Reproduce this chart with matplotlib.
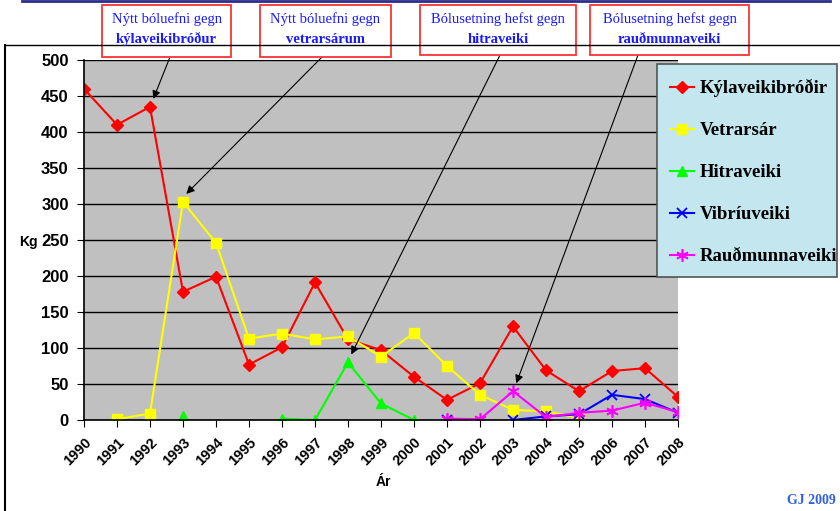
import numpy as np
import matplotlib.pyplot as plt
from matplotlib.patches import Rectangle
from matplotlib.lines import Line2D

nan = np.nan
years = list(range(1990, 2009))

kylaveiki = [460, 410, 435, 178, 199, 77, 101, 191, 112, 97, 60, 28, 51, 130, 69, 40, 68, 72, 32]
vetrarsar = [nan, 1, 9, 303, 246, 113, 120, 112, 116, 88, 121, 75, 35, 14, 12, 3, nan, nan, nan]
hitraveiki = [nan, nan, nan, 5, nan, nan, 2, 0, 80, 23, 0, nan, nan, nan, nan, nan, nan, nan, nan]
vibriuveiki = [nan, nan, nan, nan, nan, nan, nan, nan, nan, nan, nan, 0, nan, 0, 5, 8, 35, 29, 10]
raudmunna = [nan, nan, nan, nan, nan, nan, nan, nan, nan, nan, nan, 2, 1, 40, 4, 10, 13, 24, 11]

series_names = ['Kýlaveikibróðir', 'Vetrarsár', 'Hitraveiki', 'Vibríuveiki', 'Rauðmunnaveiki']

# annotation texts and the point each arrow points at
notes = [('Nýtt bóluefni gegn', 'kýlaveikibróður', 1992, 435),
         ('Nýtt bóluefni gegn', 'vetrarsárum', 1993, 303),
         ('Bólusetning hefst gegn', 'hitraveiki', 1998, 80),
         ('Bólusetning hefst gegn', 'rauðmunnaveiki', 2003, 40)]

W, H = 840, 511
fig = plt.figure(figsize=(8.4, 5.11), dpi=100)

def fx(px):
    return px / W

def fy(py):
    return 1 - py / H

# outer frame of the chart
fig.add_artist(Line2D([fx(5), 1], [fy(45), fy(45)], color='black', lw=1))
fig.add_artist(Line2D([fx(5), fx(5)], [fy(45), 0], color='black', lw=1.5))
fig.add_artist(Line2D([fx(22), fx(830)], [fy(1), fy(1)], color='#2b2b8c', lw=2))

ax = fig.add_axes([fx(84), fy(420), fx(678) - fx(84), fy(60) - fy(420)])
ax.set_facecolor('#c0c0c0')

x = np.arange(len(years))
ax.plot(x, kylaveiki, color='red', marker='D', markersize=6, lw=1.5, label=series_names[0])
ax.plot(x, vetrarsar, color='yellow', marker='s', markersize=7, lw=1.5, label=series_names[1])
ax.plot(x, hitraveiki, color='#00ff00', marker='^', markersize=7, lw=1.5, label=series_names[2])
ax.plot(x, vibriuveiki, color='blue', marker='x', markersize=7, mew=1.3, lw=1.5, label=series_names[3])
ax.plot(x, raudmunna, color='magenta', marker=(6, 2, 0), markersize=9, mew=1.2, lw=1.5, label=series_names[4])

ax.set_xlim(0, len(years) - 1)
ax.set_ylim(0, 500)
ax.set_yticks(range(0, 501, 50))
ax.yaxis.grid(True, color='black', lw=1)
ax.set_axisbelow(True)
ax.set_xticks(x)
ax.set_xticklabels([str(y) for y in years], rotation=45, ha='right', rotation_mode='anchor',
                   fontweight='bold', fontsize=10.5, fontfamily='Liberation Sans')
for lab in ax.get_yticklabels():
    lab.set_fontweight('bold')
    lab.set_fontsize(12)
    lab.set_fontfamily('Liberation Sans')
ax.tick_params(axis='y', direction='out', length=5, pad=6, color='black')
ax.tick_params(axis='x', direction='out', length=5, pad=6, color='black')
for s in ['top', 'right']:
    ax.spines[s].set_visible(False)
ax.spines['left'].set_linewidth(1.2)
ax.spines['bottom'].set_linewidth(1.2)

fig.text(fx(28), fy(242), 'Kg', fontsize=10, fontweight='bold', fontfamily='Liberation Sans',
         ha='center', va='center')
fig.text(fx(383), fy(482), 'Ár', fontsize=10, fontweight='bold', fontfamily='Liberation Sans',
         ha='center', va='center')
fig.text(fx(836), fy(500), 'GJ 2009', fontsize=10, fontweight='bold', fontfamily='Liberation Serif',
         color='#3060e0', ha='right', va='center')

# legend box drawn by hand, legend itself without frame
fig.add_artist(Rectangle((fx(657), fy(277)), fx(180), 213 / H, transform=fig.transFigure,
                         facecolor='#c4e6ef', edgecolor='#555555', lw=1.2, zorder=3))
handles, labels = ax.get_legend_handles_labels()
leg = fig.legend(handles, labels, loc='upper left', bbox_to_anchor=(fx(670), fy(79)),
                 prop={'family': 'Liberation Serif', 'weight': 'bold', 'size': 13.5},
                 handlelength=1.3, labelspacing=1.33, borderpad=0, handletextpad=0.3,
                 borderaxespad=0, frameon=False)
leg.set_zorder(5)

# annotation boxes with arrows
boxes = [(102, 231, 5, 57), (260, 391, 5, 57), (420, 576, 5, 55), (590, 749, 5, 55)]
arrow_start = [(170, 57), (322, 57), (500, 55), (638, 55)]
for (l1, l2, yr, val), (x0, x1, y0, y1), (sx, sy) in zip(notes, boxes, arrow_start):
    fig.add_artist(Rectangle((fx(x0), fy(y1)), fx(x1 - x0), (y1 - y0) / H, transform=fig.transFigure,
                             facecolor='white', edgecolor='#ff3333', lw=1.3))
    cx = fx((x0 + x1) / 2)
    fig.text(cx, fy(y0 + 14), l1, fontsize=10.5, fontfamily='Liberation Serif', color='#1a1aff',
             ha='center', va='center')
    fig.text(cx, fy(y0 + 34), l2, fontsize=10.5, fontweight='bold', fontfamily='Liberation Serif',
             color='#1a1aff', ha='center', va='center')
    ax.annotate('', xy=(years.index(yr) + 0.1, val + 11), xytext=(fx(sx), fy(sy)),
                textcoords='figure fraction', annotation_clip=False,
                arrowprops=dict(arrowstyle='-|>', color='black', lw=0.8, mutation_scale=12,
                                shrinkA=0, shrinkB=0))

fig.savefig('out.png', dpi=100)
